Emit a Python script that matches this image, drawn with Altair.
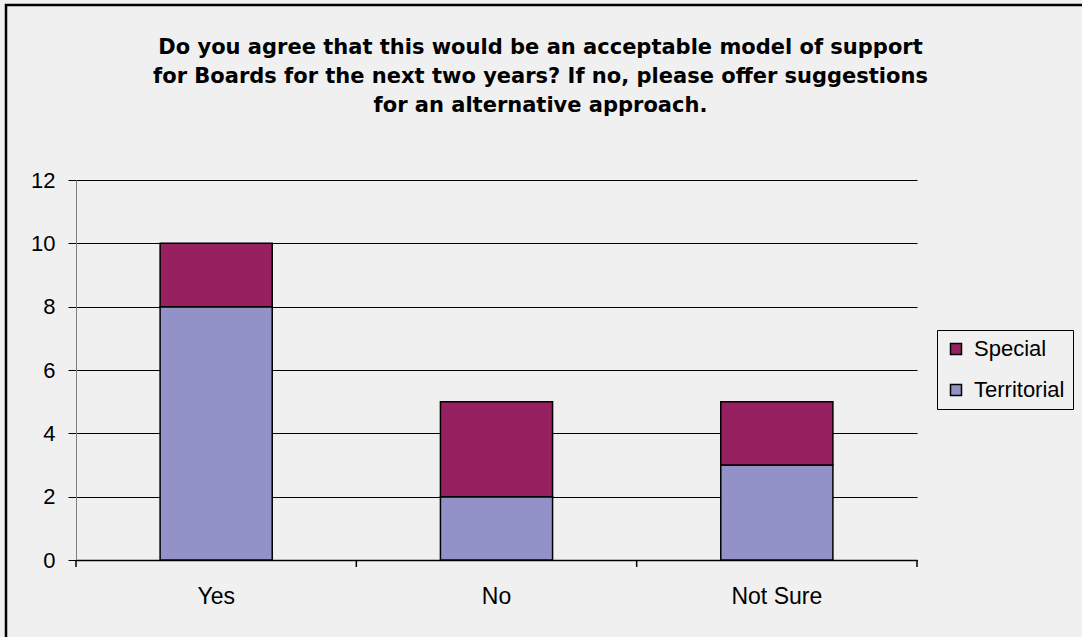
import altair as alt
import pandas as pd

categories = ["Yes", "No", "Not Sure"]
territorial = [8, 2, 3]
special = [2, 3, 2]
series = ["Special", "Territorial"]
colors = ["#962060", "#9292c8"]
y_ticks = [0, 2, 4, 6, 8, 10, 12]
title_lines = [
    "Do you agree that this would be an acceptable model of support",
    "for Boards for the next two years?  If no, please offer suggestions",
    "for an alternative approach.",
]

rows = []
for c, t, s in zip(categories, territorial, special):
    rows.append({"cat": c, "series": "Territorial", "value": t, "order": 0})
    rows.append({"cat": c, "series": "Special", "value": s, "order": 1})
df = pd.DataFrame(rows)

W, H = 841, 380
STEP = W / 3.0
FONT = "Liberation Sans"

xscale = alt.Scale(domain=categories, paddingInner=0.6, paddingOuter=0.3)

bars = alt.Chart(df).mark_bar(stroke="black", strokeWidth=1.5).encode(
    x=alt.X("cat:N", sort=categories, scale=xscale,
            axis=alt.Axis(title=None, labelAngle=0, ticks=False, domain=True,
                          domainColor="black", domainWidth=1.5,
                          labelPadding=25, labelFontSize=23, labelFont=FONT,
                          labelColor="black")),
    y=alt.Y("value:Q", stack="zero", scale=alt.Scale(domain=[0, 12], nice=False),
            axis=alt.Axis(title=None, values=y_ticks, grid=True, gridColor="black",
                          gridOpacity=1, gridWidth=1, domainColor="#808080",
                          tickColor="black", tickSize=8, labelPadding=13,
                          labelFontSize=22, labelFont=FONT, labelColor="black")),
    color=alt.Color("series:N", scale=alt.Scale(domain=series, range=colors),
                    legend=alt.Legend(title=None, orient="none", legendX=861, legendY=150,
                                      strokeColor="black", fillColor="#f0f0f0",
                                      padding=8, symbolType="square", symbolSize=121,
                                      symbolStrokeColor="black", symbolStrokeWidth=1.5,
                                      labelFontSize=22, labelFont=FONT, labelColor="black",
                                      rowPadding=19, labelOffset=7)),
    order=alt.Order("order:Q"),
)

tick_df = pd.DataFrame({"cat": categories})
xticks = alt.Chart(tick_df).mark_rule(color="black", strokeWidth=1.5, xOffset=-0.3 * STEP).encode(
    x=alt.X("cat:N", sort=categories, scale=xscale, bandPosition=0),
    y=alt.value(H), y2=alt.value(H + 7),
)
last_tick = alt.Chart(pd.DataFrame({"a": [0]})).mark_rule(color="black", strokeWidth=1.5).encode(
    x=alt.value(W), y=alt.value(H), y2=alt.value(H + 7),
)
border = alt.Chart(pd.DataFrame({"a": [0]})).mark_rect(
    fillOpacity=0, stroke="black", strokeWidth=2.5).encode(
    x=alt.value(-70), x2=alt.value(1400), y=alt.value(-175), y2=alt.value(1000),
)

chart = alt.layer(border, bars, xticks, last_tick).properties(
    width=W, height=H,
    title=alt.TitleParams(text=title_lines, fontSize=21, font="DejaVu Sans",
                          fontWeight="bold", anchor="middle", dx=44, offset=-112,
                          lineHeight=29, color="black"),
    autosize=alt.AutoSizeParams(type="none"),
    padding={"left": 76, "top": 180, "right": 165, "bottom": 77},
    background="#f0f0f0",
).configure_view(stroke="transparent")

chart.save("out.html", embed_options={"renderer": "svg", "actions": False})
